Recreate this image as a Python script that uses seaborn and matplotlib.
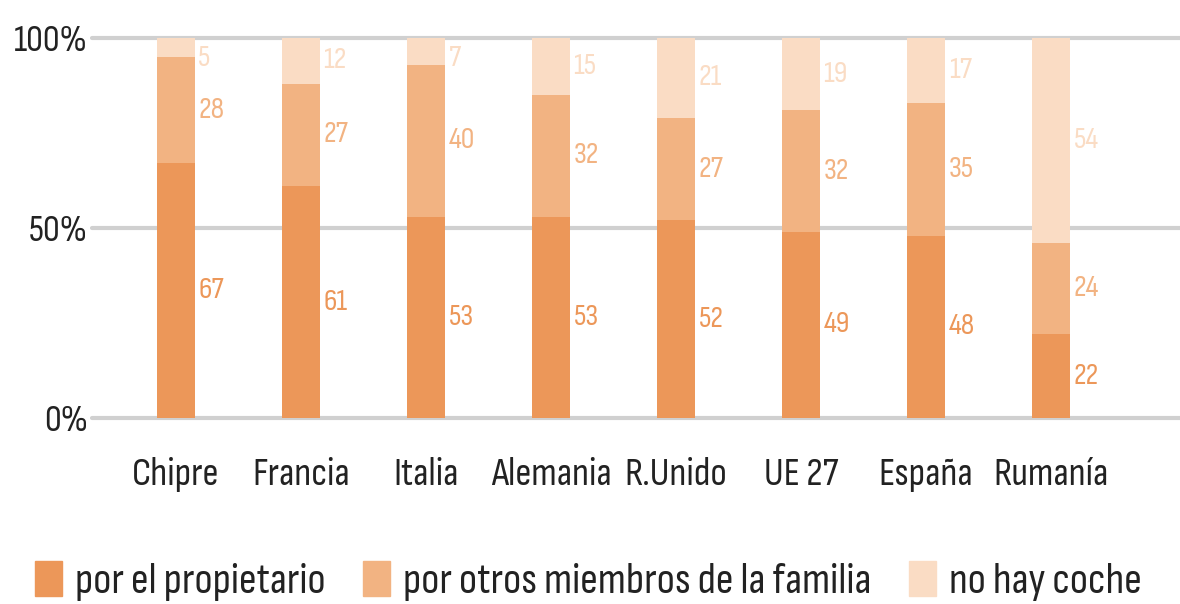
import matplotlib
matplotlib.use('Agg')
import matplotlib.pyplot as plt
import seaborn as sns
import numpy as np
import pandas as pd

paises = ['Chipre', 'Francia', 'Italia', 'Alemania', 'R.Unido', 'UE 27', 'España', 'Rumanía']
propietario = [67, 61, 53, 53, 52, 49, 48, 22]
otros = [28, 27, 40, 32, 27, 32, 35, 24]
sin_coche = [5, 12, 7, 15, 21, 19, 17, 54]

series = ['por el propietario', 'por otros miembros de la familia', 'no hay coche']
colores = ['#EC9759', '#F2B382', '#FADCC4']
ytick_vals = [0, 50, 100]
ytick_labels = ['0%', '50%', '100%']

sns.set_theme(style='white')
plt.rcParams['font.family'] = ['Sofia Sans Condensed', 'Sofia Sans Semi Condensed', 'DejaVu Sans']

df = pd.DataFrame({'pais': paises, 'prop': propietario, 'otros': otros, 'sin': sin_coche})
df['c1'] = df['prop']
df['c2'] = df['prop'] + df['otros']
df['c3'] = df['c2'] + df['sin']

fig = plt.figure(figsize=(11.8, 6.04), dpi=100)
ax = fig.add_axes([0.078, 0.308, 0.922, 0.629])

# stacked by drawing cumulative totals on top of each other
for col, c in zip(['c3', 'c2', 'c1'], colores[::-1]):
    sns.barplot(data=df, x='pais', y=col, color=c, width=0.3, ax=ax,
                saturation=1, zorder=3, linewidth=0)

# value labels right of each bar, at segment middle (top ones kept off the 100% line)
w = 0.3
for i, row in df.iterrows():
    segs = [(row['prop'], 0, colores[0]),
            (row['otros'], row['c1'], colores[1]),
            (row['sin'], row['c2'], colores[2])]
    for val, base, c in segs:
        ypos = min(base + val / 2, 94.5)
        ax.text(i + w / 2 + 0.03, ypos, str(val), ha='left', va='center',
                fontsize=22, color=c)

ax.set_ylim(0, 100)
ax.set_xlim(-0.67, 8.03)
ax.set_yticks(ytick_vals)
ax.set_yticklabels(ytick_labels, fontsize=27, color='#222222')
for y in ytick_vals:
    ax.axhline(y, color='#D0D0D0', lw=3, zorder=1, clip_on=False)
ax.tick_params(axis='x', labelsize=28.5, colors='#222222', pad=28, length=0)
ax.tick_params(axis='y', pad=3, length=0)
ax.set_xlabel('')
ax.set_ylabel('')
sns.despine(ax=ax, left=True, bottom=True, top=True, right=True)

handles = [plt.Rectangle((0, 0), 1, 1, color=c) for c in colores]
fig.legend(handles, series, loc='center left', bbox_to_anchor=(0.0297, 0.038), ncol=3,
           frameon=False, fontsize=31.5, handlelength=0.62, handleheight=0.87,
           handletextpad=0.3, columnspacing=0.85, borderpad=0, borderaxespad=0,
           labelcolor='#222222')

fig.savefig('out.png', dpi=100)
